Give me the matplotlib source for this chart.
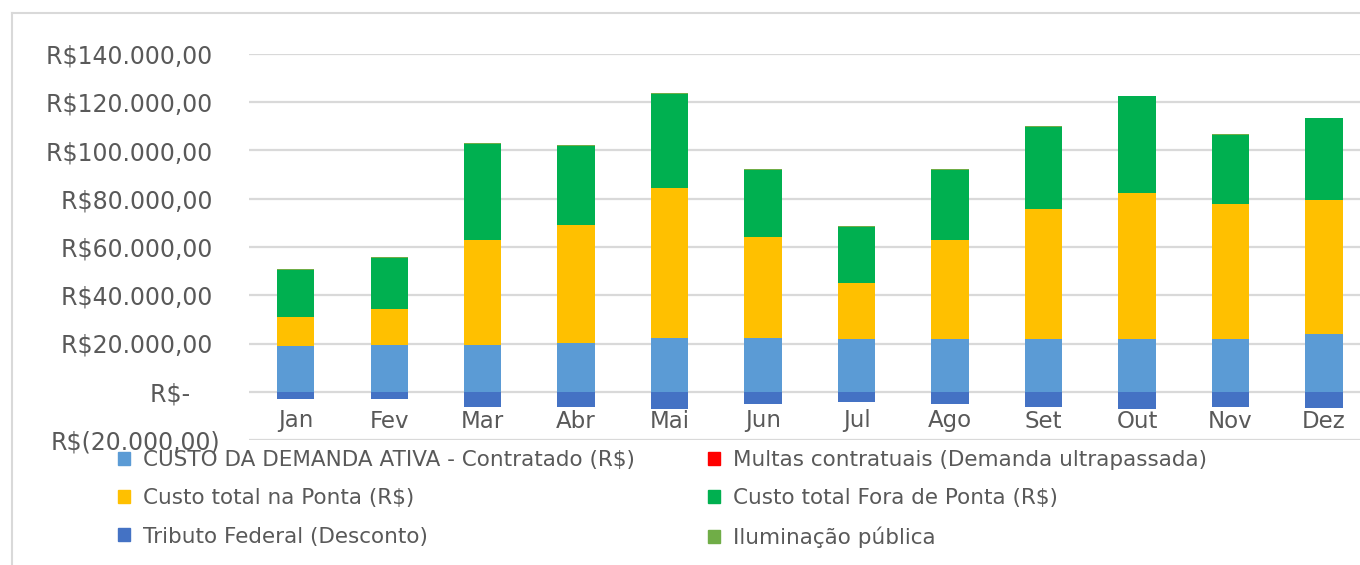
import numpy as np
import matplotlib
matplotlib.use('Agg')
import matplotlib.pyplot as plt
from matplotlib.patches import Patch
from matplotlib.lines import Line2D

months = ['Jan', 'Fev', 'Mar', 'Abr', 'Mai', 'Jun', 'Jul', 'Ago', 'Set', 'Out', 'Nov', 'Dez']

# values (R$)
demanda = [18950, 19360, 19360, 20050, 22400, 22400, 21850, 21850, 21850, 21850, 21850, 24070]
multas = [0] * 12
ponta_top = [31120, 34160, 62930, 69020, 84650, 64040, 44950, 63070, 75790, 82570, 77870, 79530]
fora_top = [50480, 55600, 102770, 101940, 123370, 92120, 68460, 92120, 109680, 122410, 106500, 113280]
tributo = [-3040, -3040, -6220, -6220, -7190, -5260, -4150, -5260, -6220, -7190, -6220, -6640]
iluminacao = [350] * 12

ponta = [t - d for t, d in zip(ponta_top, demanda)]
fora = [t - p for t, p in zip(fora_top, ponta_top)]

labels = ['CUSTO DA DEMANDA ATIVA - Contratado (R$)', 'Multas contratuais (Demanda ultrapassada)',
          'Custo total na Ponta (R$)', 'Custo total Fora de Ponta (R$)',
          'Tributo Federal (Desconto)', 'Iluminação pública']
colors = ['#5B9BD5', '#FF0000', '#FFC000', '#00B050', '#4472C4', '#70AD47']

W, H = 1360, 565
fig = plt.figure(figsize=(W / 100, H / 100), dpi=100)
ax = fig.add_axes([249 / W, 1 - 440 / H, 1 - 249 / W, (440 - 54) / H])

x = np.arange(len(months))
bw = 0.40
bottom = np.zeros(len(months))
for vals, c in [(demanda, colors[0]), (multas, colors[1]), (ponta, colors[2]),
                (fora, colors[3]), (iluminacao, colors[5])]:
    ax.bar(x, vals, bw, bottom=bottom, color=c, zorder=3)
    bottom += np.array(vals)
ax.bar(x, tributo, bw, color=colors[4], zorder=3)

ax.set_xlim(-0.5, 11.385)
ax.set_ylim(-20000, 140000)
yt = np.arange(-20000, 140001, 20000)
ax.set_yticks(yt)


def fmt(v):
    if v == 0:
        return 'R$-\u2007\u2007'
    s = f'{abs(v):,.2f}'.replace(',', 'X').replace('.', ',').replace('X', '.')
    return f'R$({s})' if v < 0 else f'R${s}\u2008'


ax.set_yticklabels([fmt(v) for v in yt])
ax.grid(axis='y', color='#D9D9D9', linewidth=1.6, zorder=0)
ax.tick_params(axis='y', length=0, pad=21, labelsize=17, labelcolor='#595959')
ax.set_xticks([])
for spine in ax.spines.values():
    spine.set_visible(False)

for i, m in enumerate(months):
    ax.text(i, (440 - 421) / (440 - 54), m, transform=ax.get_xaxis_transform(),
            ha='center', va='center', fontsize=16.5, color='#595959')

# chart border
fig.add_artist(Line2D([12 / W, 1], [1 - 13 / H, 1 - 13 / H], color='#D9D9D9', lw=1.5))
fig.add_artist(Line2D([12 / W, 12 / W], [0, 1 - 13 / H], color='#D9D9D9', lw=1.5))

handles = [Patch(color=c) for c in colors]
order = [0, 2, 4, 1, 3, 5]
leg = fig.legend([handles[i] for i in order], [labels[i] for i in order], ncol=2,
                 loc='upper left', bbox_to_anchor=(118 / W, 1 - 450 / H), frameon=False,
                 fontsize=15.5, handlelength=0.55, handleheight=0.55, handletextpad=0.6,
                 columnspacing=3.4, labelspacing=0.85, borderpad=0, borderaxespad=0)
for t in leg.get_texts():
    t.set_color('#595959')

fig.savefig('out.png', dpi=100)
